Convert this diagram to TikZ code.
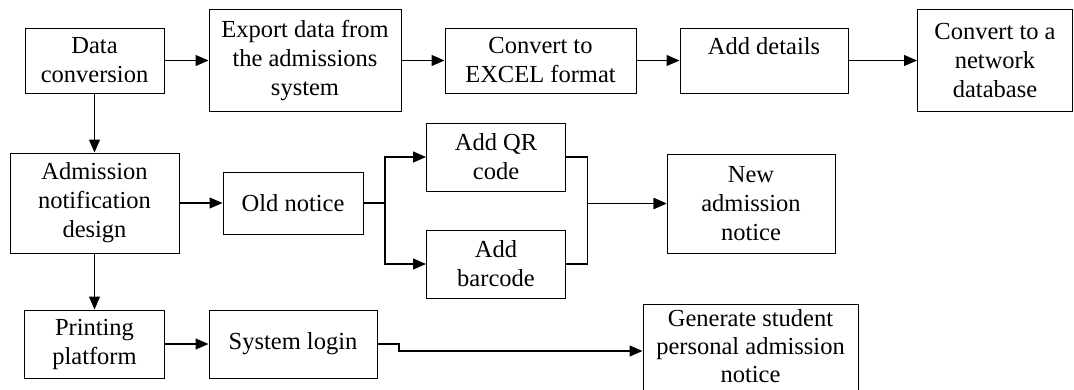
\documentclass[tikz,border=0pt]{standalone}
\usepackage{fontspec}
\setmainfont{Liberation Serif}
\usetikzlibrary{arrows.meta}
\begin{document}
\begin{tikzpicture}[x=1pt,y=-1pt,
  box/.style={draw, line width=1pt, inner sep=0pt, align=center,
    font=\fontsize{24.5}{29}\selectfont},
  arr/.style={line width=1.2pt, -{Triangle[length=13pt,width=11pt]}},
  ln/.style={line width=1.2pt}]
\useasboundingbox (0,0) rectangle (1074,389);
\clip (0,0) rectangle (1074,389);
\fill[white] (0,0) rectangle (1074,389);
% top row
\node[box, minimum width=139pt, minimum height=65pt] (dc) at (94.5,60.5) {Data\\conversion};
\node[box, minimum width=192pt, minimum height=102pt] (exp) at (305,60.5) {Export data from\\the admissions\\system};
\node[box, minimum width=191pt, minimum height=65pt] (xls) at (540.5,60.5) {Convert to\\EXCEL format};
\node[box, minimum width=168pt, minimum height=65pt] (det) at (764,60.5) {Add details\\\phantom{A}};
\node[box, minimum width=155pt, minimum height=102pt] (net) at (995,60.5) {Convert to a\\network\\database};
% middle row
\node[box, minimum width=169pt, minimum height=100pt] (adm) at (94.5,203) {Admission\\notification\\design};
\node[box, minimum width=140pt, minimum height=62pt] (old) at (293,203) {Old notice};
\node[box, minimum width=139pt, minimum height=68pt] (qr) at (496,157) {Add QR\\code};
\node[box, minimum width=139pt, minimum height=68pt] (bar) at (496,264) {Add\\barcode};
\node[box, minimum width=168pt, minimum height=99pt] (new) at (751,203.5) {New\\admission\\notice};
% bottom row
\node[box, minimum width=139.5pt, minimum height=68pt] (prt) at (94.5,344) {Printing\\platform};
\node[box, minimum width=168pt, minimum height=68pt] (log) at (293,344) {System login};
\node[box, minimum width=215pt, minimum height=96pt, font=\fontsize{24.5}{28}\selectfont] (gen) at (750.5,352) {Generate student\\personal admission\\notice\rule[-12pt]{0pt}{0pt}};
% connectors
\draw[arr] (dc) -- (exp);
\draw[arr] (exp) -- (xls);
\draw[arr] (xls) -- (det);
\draw[arr] (det) -- (net);
\draw[arr] (dc) -- (adm);
\draw[arr] (adm) -- (old);
\draw[arr] (old.east) -- ++(21.5,0) |- (qr.west);
\draw[arr] (old.east) -- ++(21.5,0) |- (bar.west);
\draw[arr] (qr.east) -- ++(21.6,0) |- (new.west);
\draw[arr] (bar.east) -- ++(21.6,0) |- (new.west);
\draw[arr] (adm) -- (prt);
\draw[arr] (prt) -- (log);
\coordinate (j) at (399,351);
\draw[arr] (log.east) -- (log.east -| j) -- (j) -- (gen.west |- j);
\end{tikzpicture}
\end{document}
